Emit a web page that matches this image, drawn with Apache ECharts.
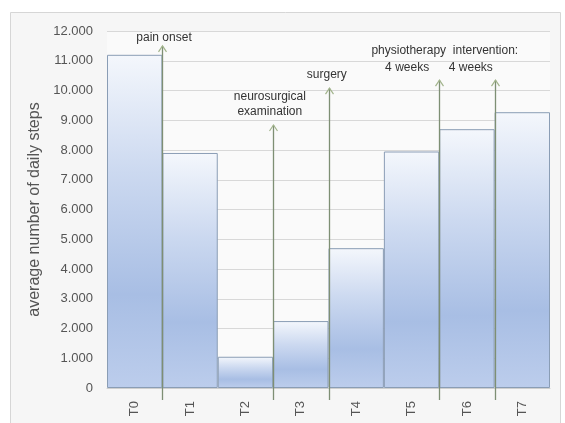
<!DOCTYPE html>
<html>
<head>
<meta charset="utf-8">
<script src="https://cdn.jsdelivr.net/npm/echarts@6/dist/echarts.min.js"></script>
<style>
  html, body { margin: 0; padding: 0; background: #ffffff; }
  #chart { width: 565px; height: 423px; }
</style>
</head>
<body>
<div id="chart"></div>
<script>
// Time points and average daily step counts
const categories = ['T0', 'T1', 'T2', 'T3', 'T4', 'T5', 'T6', 'T7'];
const steps = [11200, 7900, 1050, 2250, 4700, 7950, 8700, 9270];
const yTicks = [0, 1000, 2000, 3000, 4000, 5000, 6000, 7000, 8000, 9000, 10000, 11000, 12000];

// Event arrows: position between time points (0..8) and arrow tip height
const arrowAt = [1, 3, 4, 6, 7];
const arrowTip = [11500, 8840, 10080, 10350, 10350];

// Event notes: anchor (x in time-point units, y in steps) and text
const noteX = [1.03, 2.94, 3.97, 5.42, 6.57, 6.1];
const noteY = [11760, 9550, 10520, 10760, 10760, 11330];
const noteText = ['pain onset', 'neurosurgical\nexamination', 'surgery', '4 weeks', '4 weeks', 'physiotherapy  intervention:'];

const fmt = v => v === 0 ? '0' : (v / 1000).toFixed(3);
const FONT = 'Liberation Sans, Arial, sans-serif';

const chart = echarts.init(document.getElementById('chart'), null, { renderer: 'canvas' });

const arrowData = arrowAt.map((x, i) => [x, arrowTip[i]]);
const noteData = noteX.map((x, i) => [x, noteY[i], i]);

chart.setOption({
  backgroundColor: '#ffffff',
  animation: false,
  graphic: [{
    type: 'rect', z: -10, silent: true,
    shape: { x: 10.5, y: 12.5, width: 550, height: 420 },
    style: { fill: '#f6f6f6', stroke: '#d6d6d6', lineWidth: 1 }
  }],
  grid: { left: 107, right: 15, top: 31, bottom: 35, show: true, backgroundColor: '#fafafa', borderWidth: 0 },
  xAxis: [{
    type: 'category',
    data: categories,
    axisLine: { show: true, lineStyle: { color: '#cfcfcf' } },
    axisTick: { show: false },
    axisLabel: { rotate: 90, margin: 13, color: '#555', fontSize: 13, fontFamily: FONT }
  }, {
    type: 'value', min: 0, max: 8, show: false
  }],
  yAxis: {
    type: 'value',
    min: 0, max: 12000, interval: 1000,
    name: 'average number of daily steps',
    nameLocation: 'middle',
    nameGap: 50,
    nameTextStyle: { color: '#555', fontSize: 16, fontFamily: FONT },
    axisLine: { show: false },
    axisTick: { show: false },
    axisLabel: {
      margin: 14, color: '#555', fontSize: 13, fontFamily: FONT,
      formatter: v => yTicks.includes(v) ? fmt(v) : ''
    },
    splitLine: { lineStyle: { color: '#d8d8d8', width: 1 } }
  },
  series: [{
    type: 'bar',
    data: steps,
    barCategoryGap: '0%',
    itemStyle: {
      borderColor: '#8a9db5',
      borderWidth: 1,
      color: new echarts.graphic.LinearGradient(0, 0, 0, 1, [
        { offset: 0, color: '#f4f7fc' },
        { offset: 0.35, color: '#ccd9f0' },
        { offset: 0.72, color: '#a8bee4' },
        { offset: 1, color: '#bccdec' }
      ])
    },
    z: 2
  }, {
    type: 'custom',
    xAxisIndex: 1,
    data: arrowData,
    z: 5,
    silent: true,
    renderItem: (params, api) => {
      const top = api.coord([api.value(0), api.value(1)]);
      const base = api.coord([api.value(0), 0]);
      const x = Math.round(top[0]) + 0.5;
      const bottom = base[1] + 12;
      return {
        type: 'group',
        children: [{
          type: 'line',
          shape: { x1: x, y1: bottom, x2: x, y2: top[1] },
          style: { stroke: '#7e8f74', lineWidth: 1.3 }
        }, {
          type: 'polyline',
          shape: { points: [[x - 4, top[1] + 6], [x, top[1]], [x + 4, top[1] + 6]] },
          style: { stroke: '#a2b48c', lineWidth: 1.2, fill: null }
        }]
      };
    }
  }, {
    type: 'custom',
    xAxisIndex: 1,
    data: noteData,
    z: 6,
    silent: true,
    renderItem: (params, api) => {
      const p = api.coord([api.value(0), api.value(1)]);
      return {
        type: 'text',
        x: p[0], y: p[1],
        style: {
          text: noteText[api.value(2)],
          fill: '#333',
          fontSize: 12,
          lineHeight: 15,
          fontFamily: FONT,
          align: 'center',
          verticalAlign: 'middle'
        }
      };
    }
  }]
});
</script>
</body>
</html>
